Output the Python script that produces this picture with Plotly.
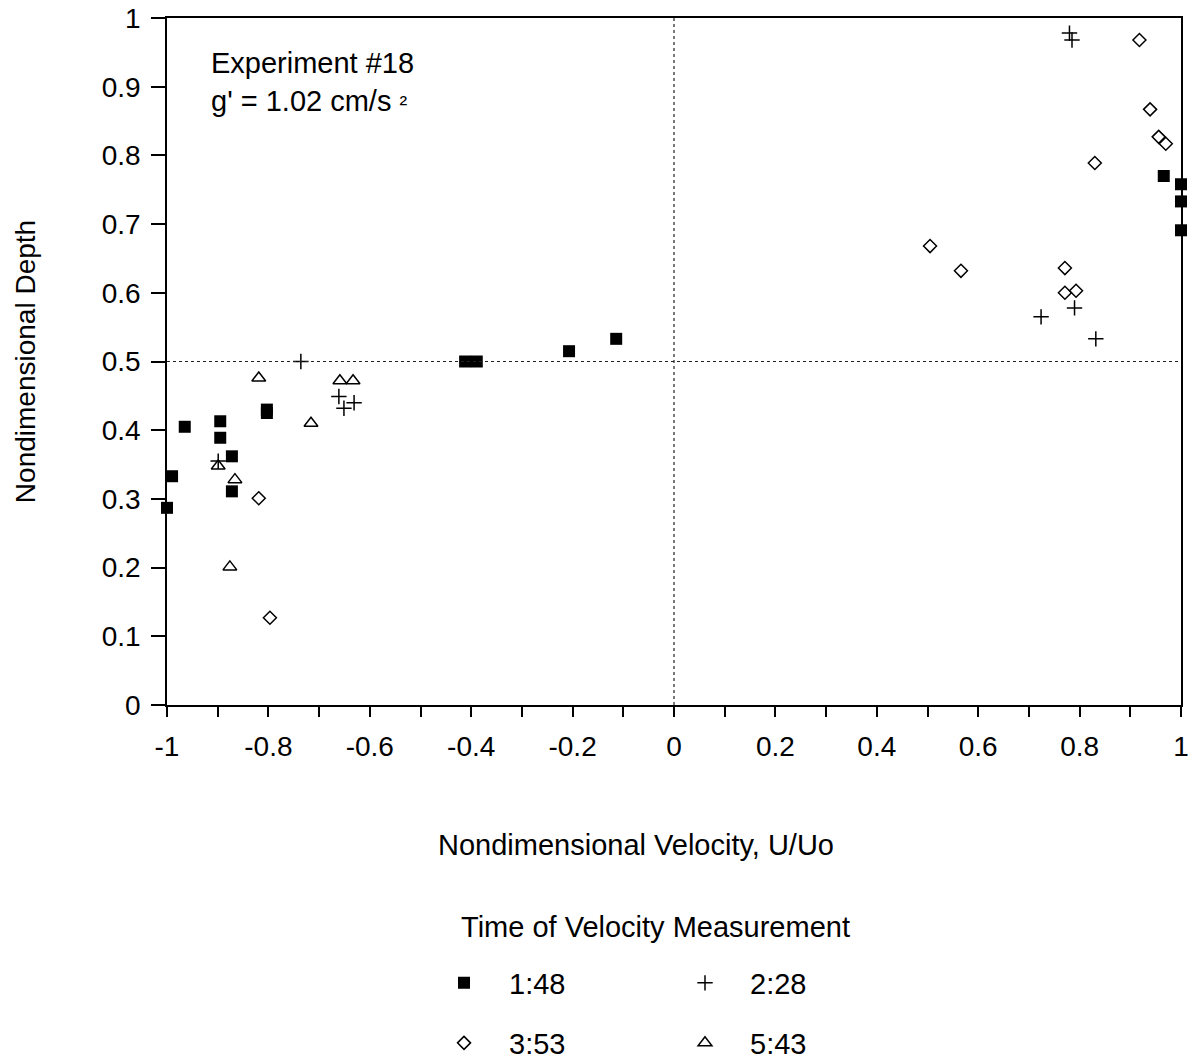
import plotly.graph_objects as go

# ---- data ----
sq_x = [-1.0, -0.99, -0.965, -0.895, -0.895, -0.872, -0.872, -0.803, -0.803,
        -0.412, -0.389, -0.207, -0.114, 0.966, 1.0, 1.0, 1.0]
sq_y = [0.287, 0.333, 0.405, 0.413, 0.389, 0.362, 0.311, 0.430, 0.425,
        0.500, 0.500, 0.515, 0.533, 0.770, 0.758, 0.733, 0.691]

plus_x = [-0.899, -0.736, -0.661, -0.651, -0.631, 0.724, 0.790, 0.832, 0.780, 0.785]
plus_y = [0.355, 0.500, 0.449, 0.432, 0.440, 0.565, 0.578, 0.533, 0.978, 0.968]

dia_x = [-0.819, -0.797, 0.505, 0.566, 0.771, 0.771, 0.793, 0.830, 0.939, 0.956, 0.970, 0.918]
dia_y = [0.301, 0.127, 0.668, 0.632, 0.636, 0.600, 0.603, 0.789, 0.867, 0.827, 0.817, 0.968]

tri_x = [-0.819, -0.716, -0.659, -0.633, -0.899, -0.866, -0.876]
tri_y = [0.476, 0.410, 0.472, 0.472, 0.348, 0.328, 0.201]

series_names = ["1:48", "2:28", "3:53", "5:43"]

x_tick_vals = [-1, -0.8, -0.6, -0.4, -0.2, 0, 0.2, 0.4, 0.6, 0.8, 1]
x_tick_text = ["-1", "-0.8", "-0.6", "-0.4", "-0.2", "0", "0.2", "0.4", "0.6", "0.8", "1"]

FONT = "Liberation Sans, Arial, Helvetica, sans-serif"
BLACK = "#000000"

# layout in page pixels (page body margin removed below, so page == figure)
FIG_W, FIG_H = 1188, 1060
PL, PR, PT, PB = 167, 1181, 18, 705
PW, PH = PR - PL, PB - PT


def px(p):
    return (p - PL) / PW


def py(p):
    return (PB - p) / PH


fig = go.Figure()
fig.add_trace(go.Scatter(x=sq_x, y=sq_y, mode="markers", name=series_names[0],
                         marker=dict(symbol="square", size=12, color=BLACK),
                         cliponaxis=False, legend="legend"))
fig.add_trace(go.Scatter(x=plus_x, y=plus_y, mode="markers", name=series_names[1],
                         marker=dict(symbol="cross-thin-open", size=11, color=BLACK,
                                     line=dict(color=BLACK, width=1.5)),
                         cliponaxis=False, legend="legend"))
fig.add_trace(go.Scatter(x=dia_x, y=dia_y, mode="markers", name=series_names[2],
                         marker=dict(symbol="diamond-open", size=10, color=BLACK,
                                     line=dict(color=BLACK, width=1.5)),
                         cliponaxis=False, legend="legend2"))
fig.add_trace(go.Scatter(x=tri_x, y=tri_y, mode="markers", name=series_names[3],
                         marker=dict(symbol="triangle-up-open", size=12, color=BLACK,
                                     line=dict(color=BLACK, width=1.5)),
                         cliponaxis=False, legend="legend2"))

# dotted reference lines
fig.add_vline(x=0, line=dict(color="#222222", width=1.2, dash="dot"))
fig.add_hline(y=0.5, line=dict(color="#222222", width=1.2, dash="dot"))

legend_common = dict(orientation="h", xanchor="left", yanchor="middle",
                     font=dict(family=FONT, size=29, color=BLACK),
                     itemwidth=80, entrywidth=146, bgcolor="rgba(0,0,0,0)",
                     traceorder="normal")

fig.update_layout(
    width=FIG_W, height=FIG_H,
    margin=dict(l=PL, r=FIG_W - PR, t=PT, b=FIG_H - PB, autoexpand=False),
    paper_bgcolor="white", plot_bgcolor="white",
    font=dict(family=FONT, size=28, color=BLACK),
    showlegend=True,
    legend=dict(x=px(419), y=py(983), **legend_common),
    legend2=dict(x=px(419), y=py(1043), **legend_common),
    xaxis=dict(
        range=[-1, 1], tickmode="array", tickvals=x_tick_vals, ticktext=x_tick_text,
        ticks="outside", ticklen=10, tickwidth=1.5, tickcolor=BLACK,
        minor=dict(dtick=0.1, tick0=-1, ticks="outside", ticklen=10, tickwidth=1.5,
                   tickcolor=BLACK),
        showline=True, linecolor=BLACK, linewidth=1.5, mirror=True,
        showgrid=False, zeroline=False,
        tickfont=dict(family=FONT, size=28, color=BLACK),
        ticklabelstandoff=6, ticklabeloverflow="allow",
    ),
    yaxis=dict(
        range=[0, 1], dtick=0.1, tick0=0, tickformat="~g",
        ticks="outside", ticklen=14, tickwidth=1.5, tickcolor=BLACK,
        showline=True, linecolor=BLACK, linewidth=1.5, mirror=True,
        showgrid=False, zeroline=False,
        tickfont=dict(family=FONT, size=28, color=BLACK),
        ticklabelstandoff=5, ticklabeloverflow="allow",
        title=dict(text="Nondimensional Depth",
                   font=dict(family=FONT, size=28, color=BLACK), standoff=58),
    ),
    annotations=[
        dict(text="Nondimensional Velocity, U/Uo", xref="paper", yref="paper",
             x=px(636), y=py(845), xanchor="center", yanchor="middle",
             showarrow=False, font=dict(family=FONT, size=29, color=BLACK)),
        dict(text="Experiment #18", xref="paper", yref="paper",
             x=px(209), y=py(63), xanchor="left", yanchor="middle",
             showarrow=False, font=dict(family=FONT, size=29, color=BLACK)),
        dict(text="g' = 1.02 cm/s <span style='font-size:23px'>²</span>",
             xref="paper", yref="paper",
             x=px(209), y=py(101), xanchor="left", yanchor="middle",
             showarrow=False, font=dict(family=FONT, size=29, color=BLACK)),
        dict(text="Time of Velocity Measurement", xref="paper", yref="paper",
             x=px(655), y=py(927), xanchor="center", yanchor="middle",
             showarrow=False, font=dict(family=FONT, size=29, color=BLACK)),
    ],
)

fig.write_html("out.html",
               config=dict(displayModeBar=False),
               post_script="document.body.style.margin='0';document.body.style.overflow='hidden';")
